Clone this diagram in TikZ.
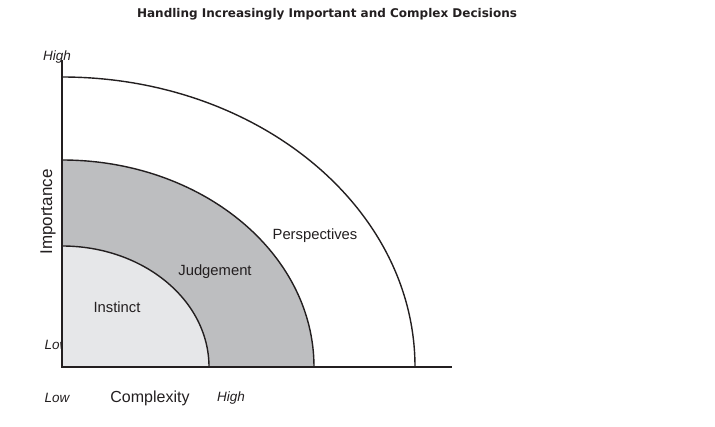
\documentclass[tikz,border=0pt]{standalone}
\usepackage{fontspec}
\setmainfont{Liberation Sans}
\newfontfamily\titlefont{DejaVu Sans}
\usepackage{tikz}
\definecolor{judgegray}{HTML}{BDBEC0}
\definecolor{instgray}{HTML}{E6E7E9}
\definecolor{ink}{HTML}{231F20}
\begin{document}
\begin{tikzpicture}[x=1pt,y=1pt,
    label/.style={inner sep=0pt,text=ink,font=\fontsize{14.8}{17}\selectfont},
    axislabel/.style={inner sep=0pt,text=ink,font=\fontsize{13.5}{16}\selectfont\itshape}]
    \useasboundingbox (-62,-59) rectangle (653,367);

    % Title
    \node[inner sep=0pt,text=ink,font=\titlefont\bfseries\fontsize{12}{14}\selectfont] (title) at (265,353) {Handling Increasingly Important and Complex Decisions};

    % Axis end labels (under the fills)
    \node[axislabel] (lowy) at (-5,22) {Low};

    % Quarter arcs
    \foreach \rx/\ry/\col in {353/290/white,252/207/judgegray,147/121/instgray}
        \draw[line width=1.4pt,draw=ink,fill=\col] (0,0) -- (0,\ry) arc[start angle=90,end angle=0,x radius=\rx,y radius=\ry] -- cycle;

    % Axes
    \draw[line width=1.8pt,draw=ink] (0,307) -- (0,0) -- (390,0);

    \node[axislabel] (highy) at (-5,310) {High};
    \node[axislabel] (lowx) at (-5,-31) {Low};
    \node[axislabel] (highx) at (169,-31) {High};
    \node[inner sep=0pt,text=ink,font=\fontsize{16}{19}\selectfont] (complexity) at (88,-31) {Complexity};
    \node[inner sep=0pt,text=ink,font=\fontsize{17}{20}\selectfont,rotate=90] (importance) at (-14,155) {Importance};

    % Region labels
    \node[label] (persp) at (253,131) {Perspectives};
    \node[label] (judge) at (153,95) {Judgement};
    \node[label] (inst) at (55,60) {Instinct};
\end{tikzpicture}
\end{document}
